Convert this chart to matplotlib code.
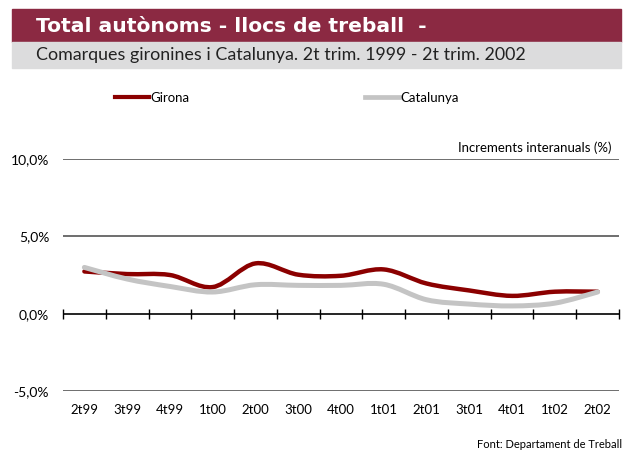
import numpy as np
import matplotlib.pyplot as plt
from matplotlib.path import Path
from matplotlib.patches import PathPatch, Rectangle
from matplotlib.lines import Line2D

# trimestres
quarters = ['2t99', '3t99', '4t99', '1t00', '2t00', '3t00', '4t00',
            '1t01', '2t01', '3t01', '4t01', '1t02', '2t02']
# increments interanuals (%)
girona = [2.73, 2.56, 2.50, 1.72, 3.25, 2.52, 2.45, 2.86, 1.95, 1.50, 1.15, 1.42, 1.42]
catalunya = [2.99, 2.24, 1.76, 1.40, 1.87, 1.83, 1.83, 1.90, 0.90, 0.62, 0.50, 0.68, 1.40]

red = '#8B0000'
grey = '#C4C4C4'
maroon = '#8B2942'
font = 'Lato'

plt.rcParams['font.family'] = [font, 'DejaVu Sans']


def smooth_path(xs, ys):
    # corba suavitzada tipus Excel (Bezier cubica)
    pts = np.column_stack([xs, ys]).astype(float)
    n = len(pts)
    verts = [pts[0]]
    codes = [Path.MOVETO]
    for i in range(n - 1):
        p0 = pts[max(i - 1, 0)]
        p1 = pts[i]
        p2 = pts[i + 1]
        p3 = pts[min(i + 2, n - 1)]
        c1 = p1 + (p2 - p0) / 6
        c2 = p2 - (p3 - p1) / 6
        verts += [c1, c2, p2]
        codes += [Path.CURVE4] * 3
    return Path(verts, codes)


fig = plt.figure(figsize=(6.37, 4.5), dpi=100)

# capçalera
fig.patches.append(Rectangle((12 / 637, 1 - 42 / 450), 609 / 637, 33 / 450,
                             transform=fig.transFigure, color=maroon, zorder=0))
fig.patches.append(Rectangle((12 / 637, 1 - 68 / 450), 609 / 637, 26 / 450,
                             transform=fig.transFigure, color='#DCDCDD', zorder=0))
fig.text(36 / 637, 1 - 26 / 450, 'Total autònoms - llocs de treball  -', color='white',
         fontsize=14.6, fontweight='bold', va='center', ha='left', family=['DejaVu Sans'])
fig.text(36 / 637, 1 - 55 / 450, 'Comarques gironines i Catalunya. 2t trim. 1999 - 2t trim. 2002',
         color='#222222', fontsize=12.9, va='center', ha='left')

ax = fig.add_axes([63 / 637, 59 / 450, 556 / 637, 232 / 450])
x = np.arange(len(quarters))

ax.add_patch(PathPatch(smooth_path(x, girona), fill=False, edgecolor=red, lw=3.2,
                       capstyle='round', zorder=3))
ax.add_patch(PathPatch(smooth_path(x, catalunya), fill=False, edgecolor=grey, lw=3.6,
                       capstyle='round', zorder=4))

ax.set_xlim(-0.5, len(quarters) - 0.5)
ax.set_ylim(-5, 10)
ax.set_yticks([-5, 0, 5, 10])
ax.set_yticklabels(['-5,0%', '0,0%', '5,0%', '10,0%'], fontsize=10)
for v in [-5, 5, 10]:
    ax.axhline(v, color='#555555', lw=1.2, zorder=1)
ax.axhline(0, color='black', lw=1.2, zorder=2)
ax.tick_params(axis='y', length=0, pad=10)

ax.set_xticks(x)
ax.set_xticklabels(quarters, fontsize=9.5)
ax.tick_params(axis='x', length=0, pad=9)
for s in ax.spines.values():
    s.set_visible(False)

# marques de l'eix al 0
sec = ax.secondary_xaxis(1 / 3)
sec.set_xticks(np.arange(len(quarters) + 1) - 0.5)
sec.set_xticklabels([])
sec.tick_params(direction='inout', length=7, width=1, color='black')
sec.spines['bottom'].set_visible(False)
sec.spines['top'].set_visible(False)

ax.text(1.0 - 7 / 556, 1.0 + 5 / 232, 'Increments interanuals (%)', transform=ax.transAxes,
        ha='right', va='bottom', fontsize=9.5)

handles = [Line2D([], [], color=red, lw=3.0), Line2D([], [], color=grey, lw=3.4)]
fig.legend(handles, ['Girona', 'Catalunya'], ncol=2, frameon=False, fontsize=9.5,
           loc='center left', bbox_to_anchor=(103 / 637, 1 - 98 / 450),
           handlelength=2.6, handletextpad=0.1, columnspacing=13.3)

fig.text(622 / 637, 1 - 444 / 450, 'Font: Departament de Treball', fontsize=8,
         ha='right', va='center')

fig.savefig('out.png', dpi=100)
